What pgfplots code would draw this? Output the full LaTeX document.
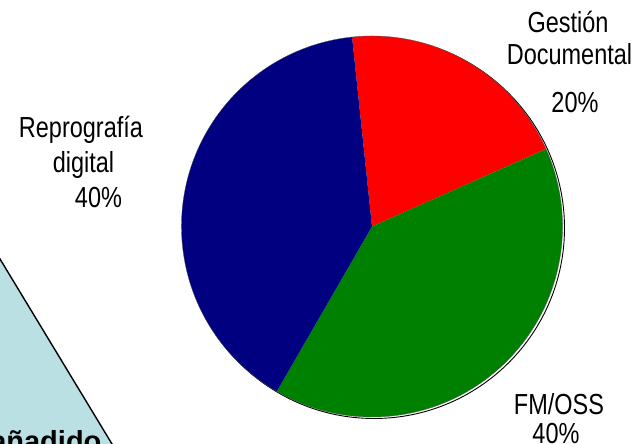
\documentclass[border=0pt]{standalone}
\usepackage{pgfplots}
\pgfplotsset{compat=1.18}
\usepackage{pgfplotstable}
\usepackage{fontspec}
\setmainfont{Liberation Sans}
\newfontfamily\narrowfont{Liberation Sans}[FakeStretch=0.81]
\definecolor{pieRed}{RGB}{255,0,0}
\definecolor{pieGreen}{RGB}{0,128,0}
\definecolor{pieNavy}{RGB}{0,0,128}
\definecolor{triBlue}{RGB}{187,224,227}

% share of each slice (percent), clockwise from the top
\pgfplotstableread{
label value
Gestion 20
FMOSS 40
Reprografia 40
}\piedata

\begin{document}
\begin{tikzpicture}
\pgfplotstablegetelem{0}{value}\of\piedata \let\vA\pgfplotsretval
\pgfplotstablegetelem{1}{value}\of\piedata \let\vB\pgfplotsretval
\pgfplotstablegetelem{2}{value}\of\piedata \let\vC\pgfplotsretval
\pgfmathsetmacro\aS{96}
\pgfmathsetmacro\aA{\aS-3.6*\vA}
\pgfmathsetmacro\aB{\aA-3.6*\vB}
\pgfmathsetmacro\aC{\aB-3.6*\vC}
\begin{axis}[hide axis, x=1pt, y=1pt, xmin=0, xmax=641, ymin=0, ymax=444,
  clip=false, at={(0,0)}, anchor=south west]
% background triangle
\addplot[fill=triBlue, draw=none] coordinates {(-2,188.3) (114,-3.3) (-2,-3.3)} -- cycle;
\addplot[black, line width=1.4pt] coordinates {(-2,188.3) (114,-3.3)};
\node[anchor=base east, font=\fontsize{29}{30}\selectfont\bfseries] at (axis cs:105,-8) {Valor añadido};
% shadow
\draw[black, line width=0.9pt, fill=white] (axis cs:374,216) circle[radius=190.5pt];
% slices
\fill[pieRed] (axis cs:372,217.5) -- ++(\aS:190.5pt) arc[start angle=\aS, end angle=\aA, radius=190.5pt] -- cycle;
\fill[pieGreen] (axis cs:372,217.5) -- ++(\aA:190.5pt) arc[start angle=\aA, end angle=\aB, radius=190.5pt] -- cycle;
\fill[pieNavy] (axis cs:372,217.5) -- ++(\aB:190.5pt) arc[start angle=\aB, end angle=\aC, radius=190.5pt] -- cycle;
\draw[black!70, line width=0.3pt] (axis cs:372,217.5) circle[radius=190.5pt];
% labels
\begin{scope}[every node/.style={anchor=base, inner sep=0pt, font=\narrowfont\fontsize{29}{30}\selectfont}]
\node at (axis cs:568,411) {Gestión};
\node at (axis cs:569.5,379) {Documental};
\node at (axis cs:575,331) {20\%};
\node at (axis cs:81,306) {Reprografía};
\node at (axis cs:83.5,271) {digital};
\node at (axis cs:98.5,236) {40\%};
\node at (axis cs:559,29) {FM/OSS};
\node at (axis cs:556,0) {40\%};
\end{scope}
\end{axis}
\pgfresetboundingbox
\path[use as bounding box] (0,0) rectangle (641pt,444pt);
\end{tikzpicture}
\end{document}
